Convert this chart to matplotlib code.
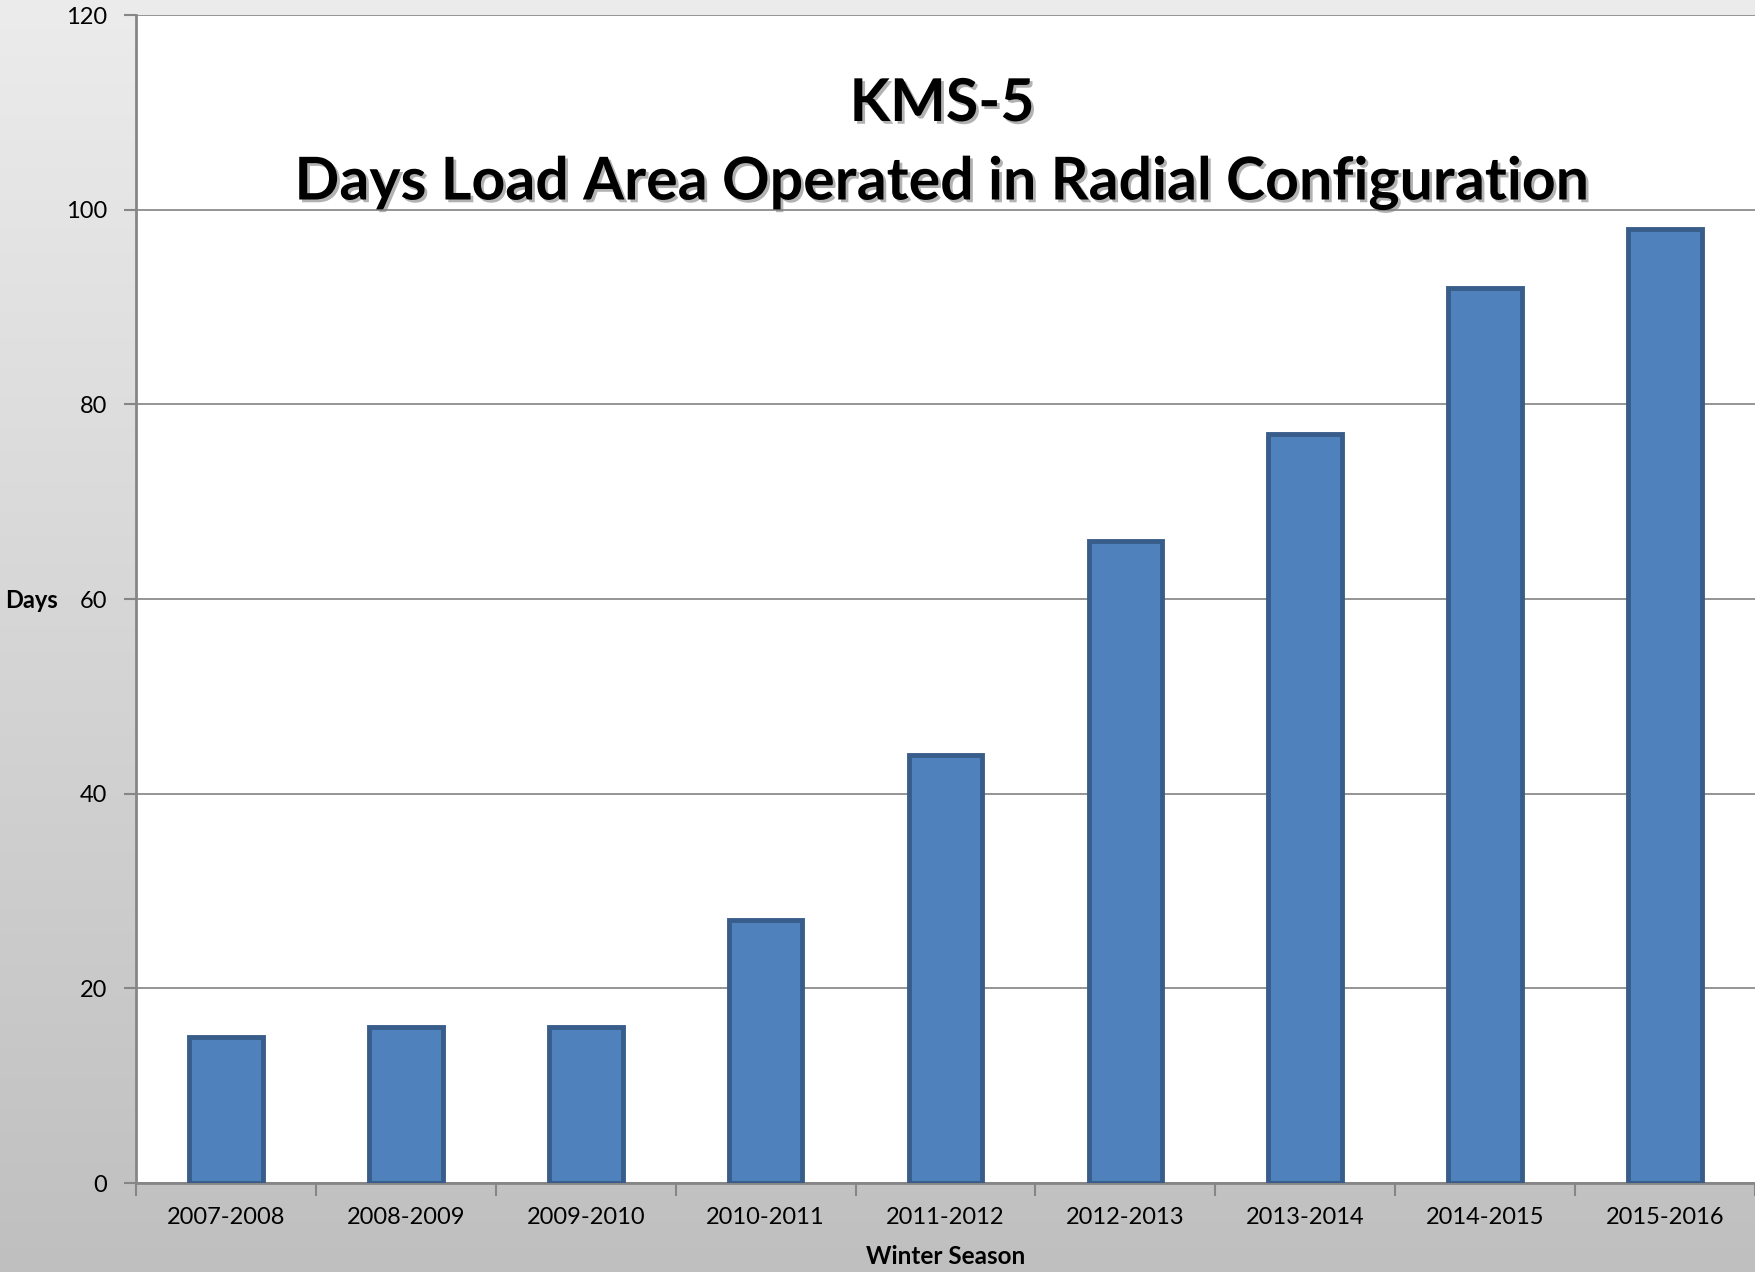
import numpy as np
import matplotlib
matplotlib.use('Agg')
import matplotlib.pyplot as plt
import matplotlib.patheffects as pe
from matplotlib.ticker import FixedLocator

# Data
seasons = ['2007-2008', '2008-2009', '2009-2010', '2010-2011', '2011-2012',
           '2012-2013', '2013-2014', '2014-2015', '2015-2016']
days = [15, 16, 16, 27, 44, 66, 77, 92, 98]
y_ticks = [0, 20, 40, 60, 80, 100, 120]

plt.rcParams['font.family'] = ['Lato', 'DejaVu Sans']

fig = plt.figure(figsize=(17.55, 12.72), dpi=100)

# Gray gradient background
bg = fig.add_axes([0, 0, 1, 1], zorder=0)
grad = np.linspace(0, 1, 256).reshape(-1, 1)
top_c = np.array([0.925, 0.925, 0.925])
bot_c = np.array([0.75, 0.75, 0.75])
img = top_c + (bot_c - top_c) * grad[:, :, None]
bg.imshow(np.repeat(img, 2, axis=1), aspect='auto', extent=[0, 1, 0, 1])
bg.axis('off')

ax = fig.add_axes([136 / 1755, 1 - 1183 / 1272, 1 - 136 / 1755, (1183 - 15) / 1272], zorder=1)
ax.set_facecolor('white')

x = np.arange(len(seasons))
ax.bar(x, days, width=0.41, color='#4f81bd', edgecolor='#385d8a', linewidth=3.5, zorder=3)

ax.set_xlim(-0.5, len(seasons) - 0.5)
ax.set_ylim(0, 120)
ax.set_yticks(y_ticks)
ax.yaxis.grid(True, color='#8c8c8c', linewidth=1.3, zorder=0)

ax.set_xticks(x)
ax.set_xticklabels(seasons, fontsize=17)
ax.xaxis.set_minor_locator(FixedLocator(np.arange(-0.5, len(seasons), 1.0)))
ax.tick_params(axis='x', which='major', length=0, pad=17)
ax.tick_params(axis='x', which='minor', length=9, width=1.5, color='#868686')
ax.tick_params(axis='y', length=9, width=1.5, color='#868686', labelsize=17, pad=12)

for side in ['top', 'right']:
    ax.spines[side].set_visible(False)
for side in ['left', 'bottom']:
    ax.spines[side].set_color('#868686')
    ax.spines[side].set_linewidth(2)
ax.set_axisbelow(True)

fig.text(32 / 1755, 1 - 601 / 1272, 'Days', fontsize=17, fontweight='bold', ha='center', va='center')
fig.text(946 / 1755, 1 - 1257 / 1272, 'Winter Season', fontsize=17.5, fontweight='bold', ha='center', va='center')

shadow = [pe.SimplePatchShadow(offset=(2, -2), shadow_rgbFace='#808080', alpha=0.6), pe.Normal()]
fig.text(942 / 1755, 1 - 104 / 1272, 'KMS-5', fontsize=42.5, fontweight='bold',
         ha='center', va='center', path_effects=shadow, zorder=5)
fig.text(942 / 1755, 1 - 183 / 1272, 'Days Load Area Operated in Radial Configuration', fontsize=42.5,
         fontweight='bold', ha='center', va='center', path_effects=shadow, zorder=5)

fig.savefig('out.png', dpi=100)
